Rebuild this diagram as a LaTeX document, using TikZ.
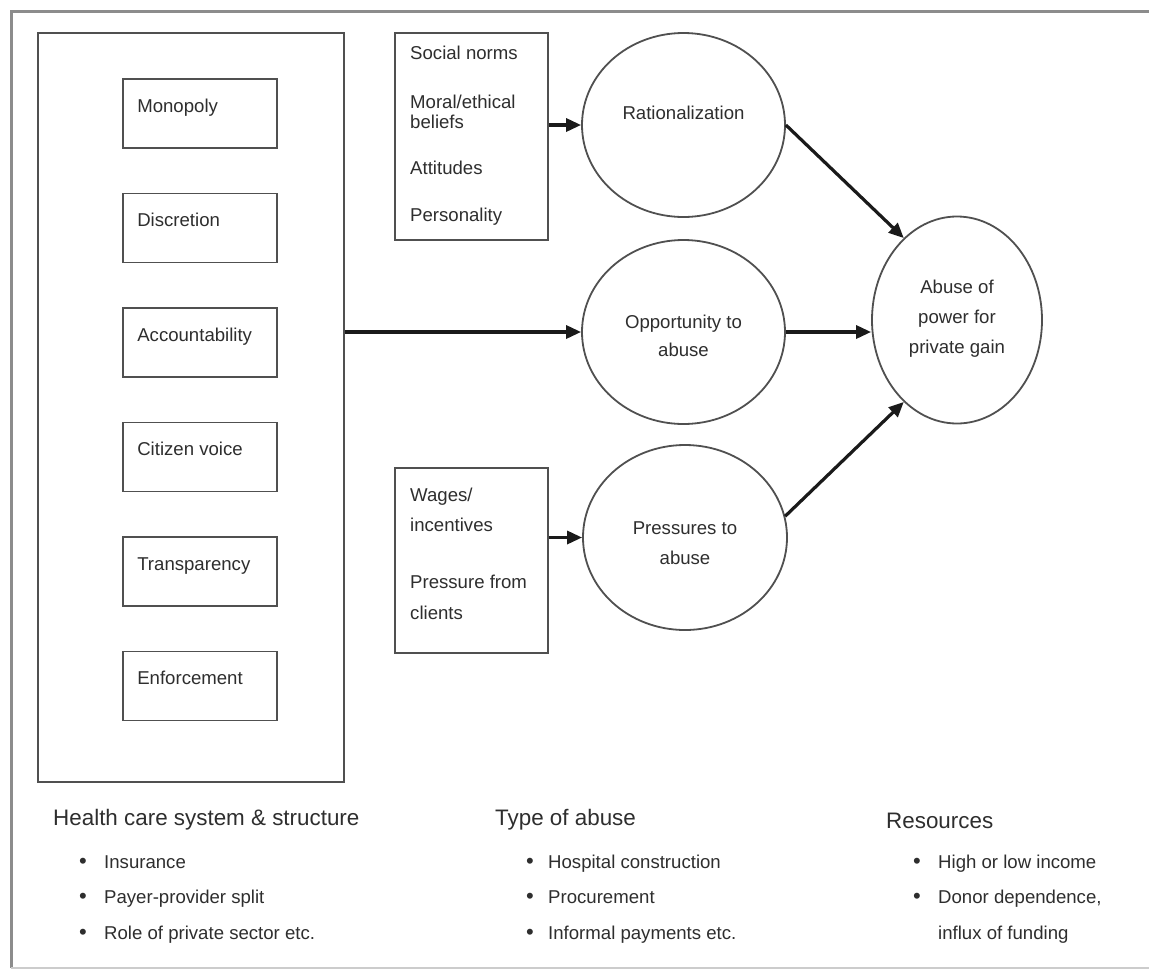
\documentclass[tikz,border=0pt]{standalone}
\usepackage{fontspec}
\setmainfont{Liberation Sans}
\usetikzlibrary{shapes.geometric,arrows.meta,calc}
\definecolor{txtc}{HTML}{2E2E2E}
\definecolor{lnc}{HTML}{505050}
\definecolor{arrc}{HTML}{1A1A1A}
\definecolor{framec}{HTML}{8C8C8C}
\newcommand{\bul}{{\fontsize{22}{22}\selectfont •}}
\begin{document}
\begin{tikzpicture}[x=1pt,y=-1pt,
  font=\fontsize{18.6}{30}\selectfont,
  boxn/.style={draw=lnc, line width=1.8pt, inner sep=0pt, rectangle},
  ell/.style={draw=lnc, line width=1.8pt, inner sep=0pt, ellipse},
  lbl/.style={text=txtc, inner sep=0pt, anchor=base west},
  clbl/.style={text=txtc, inner sep=0pt, anchor=base},
  head/.style={text=txtc, inner sep=0pt, anchor=base west, font=\fontsize{22.4}{26}\selectfont},
  arr/.style={draw=arrc, line width=3.2pt, -{Triangle[length=15pt,width=13pt]}}
]
\useasboundingbox (0,0) rectangle (1149,970);
\fill[white] (0,0) rectangle (1149,970);
% outer frame
\draw[framec, line width=3pt] (1149,11) -- (11,11) -- (11,968);
\draw[black!20, line width=1.5pt] (11,968) -- (1149,968);

% big left box
\node[boxn, minimum width=306pt, minimum height=749pt] (big) at (191,407.5) {};
\foreach \n/\y/\t in {mono/113.5/Monopoly, disc/228/Discretion, acc/342.5/Accountability, cit/457/Citizen voice, tra/571.5/Transparency, enf/686/Enforcement}{
  \node[boxn, minimum width=154pt, minimum height=69pt] (\n) at (200,\y) {};
  \node[lbl] (\n-t) at ($(\n.west)+(15,-1.5)$) {\t};
}

% top middle box
\node[boxn, minimum width=153pt, minimum height=207pt] (soc) at (471.5,136.5) {};
\node[lbl] (soc1) at (410,59.5) {Social norms};
\node[lbl] (soc2) at (410,108.5) {Moral/ethical};
\node[lbl] (soc2b) at (410,128.5) {beliefs};
\node[lbl] (soc3) at (410,174.5) {Attitudes};
\node[lbl] (soc4) at (410,221.5) {Personality};

% bottom middle box
\node[boxn, minimum width=153pt, minimum height=185pt] (wag) at (471.5,560.5) {};
\node[lbl] (wag1) at (410,501.5) {Wages/};
\node[lbl] (wag1b) at (410,531.5) {incentives};
\node[lbl] (wag2) at (410,588.5) {Pressure from};
\node[lbl] (wag2b) at (410,619.5) {clients};

% ellipses
\node[ell, minimum width=203pt, minimum height=184pt] (rat) at (683.5,125) {};
\node[clbl] (rat-t) at (683.5,119.5) {Rationalization};
\node[ell, minimum width=203pt, minimum height=184pt] (opp) at (683.5,332) {};
\node[clbl] (opp-t1) at (683.5,328.5) {Opportunity to};
\node[clbl] (opp-t2) at (683.5,356.5) {abuse};
\node[ell, minimum width=204pt, minimum height=185pt] (pre) at (685,537.5) {};
\node[clbl] (pre-t1) at (685,534.5) {Pressures to};
\node[clbl] (pre-t2) at (685,564.5) {abuse};
\node[ell, minimum width=170pt, minimum height=207pt] (abu) at (957,320) {};
\node[clbl] (abu-t1) at (957,293.5) {Abuse of};
\node[clbl] (abu-t2) at (957,323.5) {power for};
\node[clbl] (abu-t3) at (957,353.5) {private gain};

% connectors
\draw[arr] (soc.east |- rat.west) -- (rat.west);
\draw[arr] (big.east |- opp.west) -- (opp.west);
\draw[arr] (wag.east |- pre.west) -- (pre.west);
\draw[arr] (rat.east) -- (abu.123);
\draw[arr] (opp.east) -- (opp.east -| abu.west);
\draw[arr] (pre.12) -- (abu.237);

% bottom legends
\node[head] (h1) at (53,825) {Health care system \& structure};
\node[lbl] (h1a) at (79,868.5) {\makebox[25pt][l]{\bul}Insurance};
\node[lbl] (h1b) at (79,903.5) {\makebox[25pt][l]{\bul}Payer-provider split};
\node[lbl] (h1c) at (79,939.5) {\makebox[25pt][l]{\bul}Role of private sector etc.};

\node[head] (h2) at (495,825) {Type of abuse};
\node[lbl] (h2a) at (526,868.5) {\makebox[22pt][l]{\bul}Hospital construction};
\node[lbl] (h2b) at (526,903.5) {\makebox[22pt][l]{\bul}Procurement};
\node[lbl] (h2c) at (526,939.5) {\makebox[22pt][l]{\bul}Informal payments etc.};

\node[head] (h3) at (886,828) {Resources};
\node[lbl] (h3a) at (913,868.5) {\makebox[25pt][l]{\bul}High or low income};
\node[lbl] (h3b) at (913,903.5) {\makebox[25pt][l]{\bul}Donor dependence,};
\node[lbl] (h3c) at (938,939.5) {influx of funding};
\end{tikzpicture}
\end{document}
